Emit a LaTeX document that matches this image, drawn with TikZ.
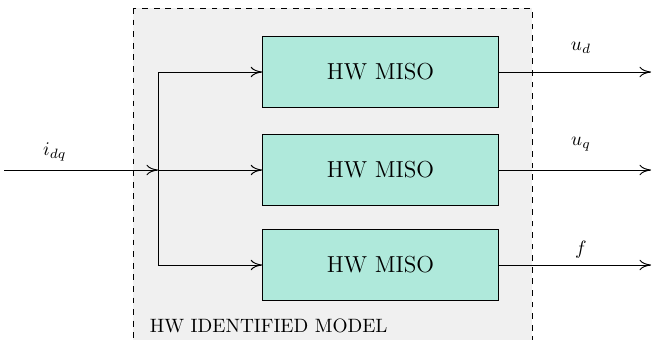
\documentclass[tikz,border=0pt]{standalone}
\usetikzlibrary{positioning,arrows.meta}
\definecolor{misogreen}{RGB}{175,233,219}
\definecolor{modelgray}{RGB}{240,240,240}
\tikzset{
  miso/.style={draw, fill=misogreen, minimum width=4.29cm, minimum height=1.3cm, font=\large},
  >={To[length=6pt,width=5.5pt]},
}
\begin{document}
\begin{tikzpicture}[x=0.518pt,y=-0.518pt,line width=0.5pt]
    \useasboundingbox (0,0) rectangle (653,339);
    \draw[dashed,fill=modelgray] (133,8) rectangle (532,352);
    \node[anchor=base west] (model) at (143,332) {HW IDENTIFIED MODEL};
    % the three blocks
    \node[miso] (miso1) at (380.5,72) {HW MISO};
    \node[miso] (miso2) at (380.5,170) {HW MISO};
    \node[miso] (miso3) at (380.5,265) {HW MISO};
    % input and split
    \coordinate (in) at (4,170);
    \coordinate (split) at (158,170);
    \draw[->] (in) -- node[pos=0.33,above=1pt] (idq) {$i_{dq}$} (split);
    \draw (split |- miso1.west) -- (split |- miso3.west);
    \draw[->] (split |- miso1.west) -- (miso1.west);
    \draw[->] (split) -- (miso2.west);
    \draw[->] (split |- miso3.west) -- (miso3.west);
    % outputs
    \coordinate (outd) at (651,72);
    \coordinate (outq) at (651,170);
    \coordinate (outf) at (651,265);
    \draw[->] (miso1.east) -- node[pos=0.54,above=6pt] (ud) {$u_d$} (outd);
    \draw[->] (miso2.east) -- node[pos=0.54,above=6pt] (uq) {$u_q$} (outq);
    \draw[->] (miso3.east) -- node[pos=0.54,above=0pt] (f) {$f$} (outf);
\end{tikzpicture}
\end{document}
